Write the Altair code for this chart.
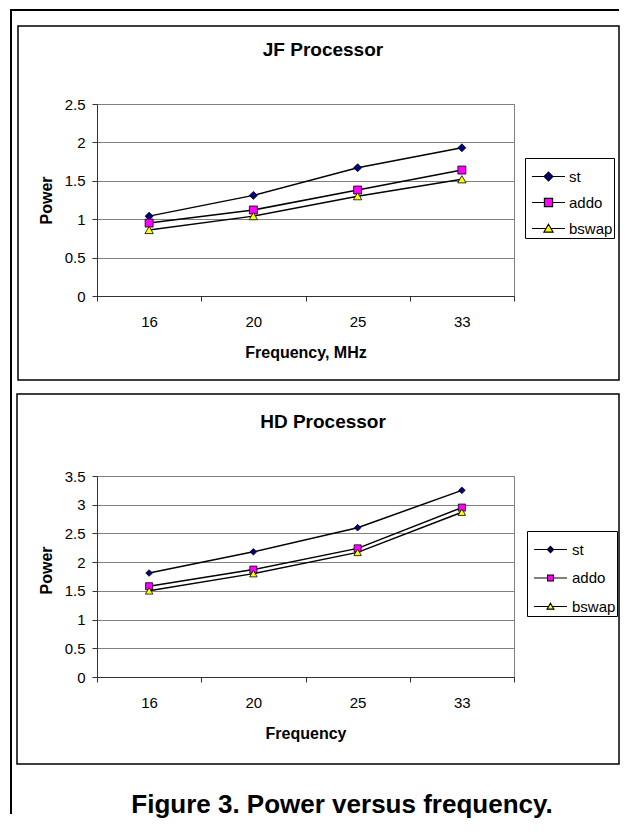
import altair as alt
import pandas as pd

# ---------------- data ----------------
freqs = ["16", "20", "25", "33"]
series = ["st", "addo", "bswap"]

jf_st = [1.04, 1.31, 1.67, 1.93]
jf_addo = [0.95, 1.12, 1.38, 1.64]
jf_bswap = [0.86, 1.04, 1.30, 1.52]

hd_st = [1.81, 2.18, 2.60, 3.25]
hd_addo = [1.58, 1.87, 2.24, 2.95]
hd_bswap = [1.50, 1.80, 2.17, 2.87]

jf_ticks = [0, 0.5, 1, 1.5, 2, 2.5]
hd_ticks = [0, 0.5, 1, 1.5, 2, 2.5, 3, 3.5]

jf_title = "JF Processor"
hd_title = "HD Processor"
jf_xtitle = "Frequency, MHz"
hd_xtitle = "Frequency"
y_title = "Power"
caption = "Figure 3. Power versus frequency."

marker_fill = ["#000080", "#ff00ff", "#ffff00"]
marker_stroke = ["black", "black", "black"]
marker_shape = ["diamond", "square", "triangle-up"]
jf_marker_size = [64, 64, 70]
hd_marker_size = [44, 50, 56]
# legend glyphs: a line with the series marker on it (unit = 16.5px)
jf_legend_shape = [
    "M-1,0L-0.27,0M0.27,0L1,0M0,-0.27L0.27,0L0,0.27L-0.27,0Z",
    "M-1,0L-0.25,0M0.25,0L1,0M-0.25,-0.25L0.25,-0.25L0.25,0.25L-0.25,0.25Z",
    "M-1,0L-0.15,0M0.15,0L1,0M0,-0.26L0.28,0.22L-0.28,0.22Z",
]
hd_legend_shape = [
    "M-1,0L-0.19,0M0.19,0L1,0M0,-0.19L0.19,0L0,0.19L-0.19,0Z",
    "M-1,0L-0.18,0M0.18,0L1,0M-0.18,-0.18L0.18,-0.18L0.18,0.18L-0.18,0.18Z",
    "M-1,0L-0.11,0M0.11,0L1,0M0,-0.2L0.21,0.16L-0.21,0.16Z",
]

FONT = "Liberation Sans"
W = 417


def long_df(st, addo, bswap):
    rows = []
    for name, vals in zip(series, [st, addo, bswap]):
        for f, v in zip(freqs, vals):
            rows.append({"freq": f, "series": name, "power": v})
    return pd.DataFrame(rows)


def one():
    return alt.Chart(pd.DataFrame({"k": [0]}))


def panel(df, ticks, ymax, height, title, xtitle, box, leg_xy, row_pad, lab_off,
          ytitle_y, msizes, lshapes, extra):
    x = alt.X(
        "freq:O", sort=freqs, bandPosition=0.5,
        scale=alt.Scale(type="band", domain=freqs, paddingInner=0, paddingOuter=0),
        axis=alt.Axis(title=xtitle, tickBand="extent", grid=False, labelAngle=0,
                      labelBaseline="alphabetic", labelPadding=25,
                      titleY=61, titleBaseline="alphabetic"),
    )
    y = alt.Y(
        "power:Q",
        scale=alt.Scale(domain=[0, ymax], nice=False, zero=True),
        axis=alt.Axis(title=y_title, values=ticks, format=".1~f", grid=True,
                      labelPadding=7, titleX=-45.5, titleY=ytitle_y,
                      titleBaseline="alphabetic"),
    )
    frame = one().mark_rect(fillOpacity=0, stroke="black", strokeWidth=1.5).encode(
        x=alt.value(box[0]), x2=alt.value(box[1]),
        y=alt.value(box[2]), y2=alt.value(box[3]),
    )
    lines = alt.Chart(df).mark_line(color="black", strokeWidth=1.5).encode(
        x=x, y=y, detail="series:N"
    )
    pts = []
    for name, shp, col, sz in zip(series, marker_shape, marker_fill, msizes):
        pts.append(
            alt.Chart(df).transform_filter(alt.datum.series == name).mark_point(
                shape=shp, filled=True, fill=col, stroke="black", strokeWidth=0.8,
                size=sz, opacity=1
            ).encode(x=x, y=y)
        )
    L = alt.Legend(title=None, orient="none", legendX=leg_xy[0], legendY=leg_xy[1],
                   labelFont=FONT, labelFontSize=15, labelColor="black",
                   symbolSize=1089, symbolStrokeWidth=1.1, symbolOpacity=1,
                   strokeColor="black", fillColor="white", padding=1,
                   symbolOffset=5, labelOffset=lab_off, rowPadding=row_pad)
    leg_df = pd.DataFrame({"series": series, "freq": freqs[:3], "power": [None] * 3})
    leg = alt.Chart(leg_df).mark_point(filled=False, strokeWidth=1.1,
                                       opacity=1, size=1089).encode(
        x=x, y=y,
        shape=alt.Shape("series:N", scale=alt.Scale(domain=series, range=lshapes), legend=L),
        fill=alt.Fill("series:N", scale=alt.Scale(domain=series, range=marker_fill), legend=L),
        stroke=alt.Stroke("series:N", scale=alt.Scale(domain=series, range=marker_stroke), legend=L),
    )
    ttl = one().mark_text(text=title, font=FONT, fontSize=19, fontWeight="bold",
                          align="center", baseline="middle", color="black").encode(
        x=alt.value(226), y=alt.value(-54)
    )
    layers = [frame] + extra + [lines] + pts + [leg, ttl]
    return alt.layer(*layers).properties(width=W, height=height)


outer_left = one().mark_rule(color="black", strokeWidth=2).encode(
    x=alt.value(-86), y=alt.value(-94), y2=alt.value(710)
)
outer_top = one().mark_rule(color="black", strokeWidth=2).encode(
    x=alt.value(-87), x2=alt.value(522), y=alt.value(-94)
)
cap = one().mark_text(text=caption, font=FONT, fontSize=26, fontWeight="bold",
                      align="center", baseline="middle", color="black").encode(
    x=alt.value(245), y=alt.value(329)
)

c1 = panel(long_df(jf_st, jf_addo, jf_bswap), jf_ticks, 2.5, 192, jf_title, jf_xtitle,
           (-79, 522, -78, 276), (428, 54), 0, 3, 96, jf_marker_size, jf_legend_shape,
           [outer_left, outer_top])
c2 = panel(long_df(hd_st, hd_addo, hd_bswap), hd_ticks, 3.5, 201, hd_title, hd_xtitle,
           (-80, 522, -82, 288), (430, 55), 2.5, 4, 94, hd_marker_size, hd_legend_shape, [cap])

chart = alt.vconcat(c1, c2, spacing=180, bounds="flush").resolve_scale(
    shape="independent", fill="independent", stroke="independent"
).resolve_legend(
    shape="independent", fill="independent", stroke="independent"
).properties(
    padding=0, autosize=alt.AutoSizeParams(type="pad")
).configure_view(stroke="#808080", strokeWidth=1).configure_axis(
    labelFont=FONT, labelFontSize=15, labelColor="black",
    titleFont=FONT, titleFontSize=16, titleFontWeight="bold", titleColor="black",
    domainColor="#333333", tickColor="#333333", tickSize=5, gridColor="#808080",
    domainWidth=1, tickWidth=1, gridWidth=1,
)

chart.save("out.html", embed_options={"renderer": "svg", "actions": False})
